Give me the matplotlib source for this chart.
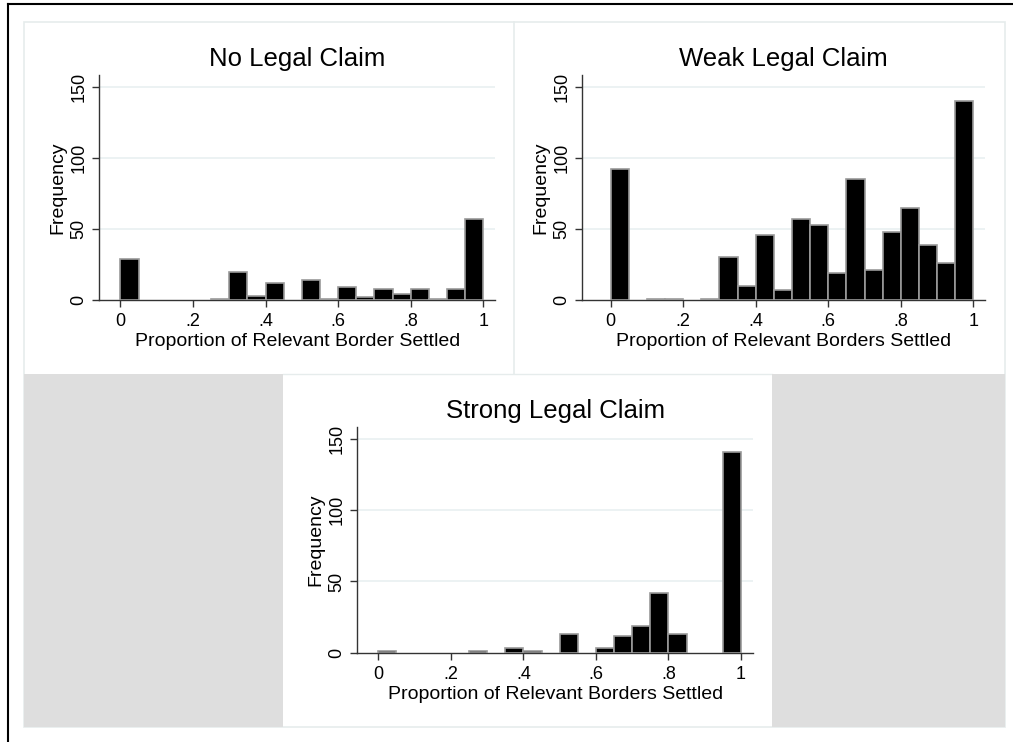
import numpy as np
from matplotlib import pyplot as plt
from matplotlib.patches import Rectangle
from matplotlib.lines import Line2D

plt.rcParams['font.family'] = ['Liberation Sans', 'DejaVu Sans']

W, H = 1013, 742

# histogram bins: 20 bins of width .05 over [0, 1]
bin_width = 0.05
bin_starts = np.arange(20) * bin_width

no_claim = [29, 0, 0, 0, 0, 1, 20, 3, 12, 0, 14, 1, 9, 2, 8, 4, 8, 1, 8, 57]
weak_claim = [92, 0, 1, 1, 0, 1, 30, 10, 46, 7, 57, 53, 19, 85, 21, 48, 65, 39, 26, 140]
strong_claim = [1, 0, 0, 0, 0, 1, 0, 3, 1, 0, 13, 0, 3, 12, 19, 42, 13, 0, 0, 141]

titles = ["No Legal Claim", "Weak Legal Claim", "Strong Legal Claim"]
xlabels = ["Proportion of Relevant Border Settled",
           "Proportion of Relevant Borders Settled",
           "Proportion of Relevant Borders Settled"]
xticks = [0, 0.2, 0.4, 0.6, 0.8, 1]
xticklabels = ["0", ".2", ".4", ".6", ".8", "1"]
yticks = [0, 50, 100, 150]

AXIS_COLOR = "#333333"
GRID_COLOR = "#e9f0f1"
FRAME_COLOR = "#e6ecec"
FILL_GRAY = "#dedede"


def px_rect(left, top, right, bottom):
    '''pixel box (origin top-left) -> figure fraction rect'''
    return [left / W, 1 - bottom / H, (right - left) / W, (bottom - top) / H]


def draw_panel(ax, counts, title, xlabel, xlim, ylim):
    counts = np.array(counts)
    keep = counts > 0
    ax.bar(bin_starts[keep], counts[keep], width=bin_width, align="edge",
           color="black", edgecolor="#9a9a9a", linewidth=1.2, zorder=3)

    ax.set_xlim(*xlim)
    ax.set_ylim(*ylim)
    for y in yticks[1:]:
        ax.axhline(y, color=GRID_COLOR, linewidth=1.2, zorder=1)

    for side in ["top", "right"]:
        ax.spines[side].set_visible(False)
    for side in ["left", "bottom"]:
        ax.spines[side].set_color(AXIS_COLOR)
        ax.spines[side].set_linewidth(1.0)

    ax.set_xticks(xticks)
    ax.set_xticklabels(xticklabels)
    ax.set_yticks(yticks)
    ax.set_yticklabels([str(y) for y in yticks], rotation=90, va="center")
    ax.tick_params(axis="both", direction="out", length=5, width=1,
                   color=AXIS_COLOR, labelsize=13, labelcolor="black")
    ax.tick_params(axis="x", pad=4.5)
    ax.tick_params(axis="y", pad=3.5)

    ax.set_xlabel(xlabel, fontsize=14, labelpad=2)
    ax.set_ylabel("Frequency", fontsize=14, labelpad=3)
    ax.set_title(title, fontsize=18.5, pad=6.5)
    ax.set_facecolor("none")


fig = plt.figure(figsize=(W / 100, H / 100), dpi=100)
fig.patch.set_facecolor("white")

# background boxes of the combined graph
fig.patches.append(Rectangle((24 / W, 1 - 727 / H), (1005 - 24) / W, (727 - 22) / H,
                             transform=fig.transFigure, facecolor="white",
                             edgecolor=FRAME_COLOR, linewidth=1.2, zorder=-2))
fig.patches.append(Rectangle((24 / W, 1 - 727 / H), (283 - 24) / W, (727 - 374) / H,
                             transform=fig.transFigure, facecolor=FILL_GRAY,
                             edgecolor="none", zorder=-1))
fig.patches.append(Rectangle((772 / W, 1 - 727 / H), (1005 - 772) / W, (727 - 374) / H,
                             transform=fig.transFigure, facecolor=FILL_GRAY,
                             edgecolor="none", zorder=-1))
fig.lines.append(Line2D([514 / W, 514 / W], [1 - 22 / H, 1 - 374 / H],
                        transform=fig.transFigure, color=FRAME_COLOR,
                        linewidth=1.2, zorder=-1))
fig.lines.append(Line2D([283 / W, 772 / W], [1 - 374 / H, 1 - 374 / H],
                        transform=fig.transFigure, color=FRAME_COLOR,
                        linewidth=1.0, zorder=-1))

# black outer border (top and left)
fig.lines.append(Line2D([7.5 / W, 7.5 / W], [0, 1 - 4 / H],
                        transform=fig.transFigure, color="black", linewidth=1.5))
fig.lines.append(Line2D([7.5 / W, 1], [1 - 4 / H, 1 - 4 / H],
                        transform=fig.transFigure, color="black", linewidth=1.5))

ax1 = fig.add_axes(px_rect(99.3, 75, 495, 300))
draw_panel(ax1, no_claim, titles[0], xlabels[0], (-0.058, 1.032), (0, 158.2))

ax2 = fig.add_axes(px_rect(582.3, 75, 985, 300))
draw_panel(ax2, weak_claim, titles[1], xlabels[1], (-0.078, 1.032), (0, 158.2))

ax3 = fig.add_axes(px_rect(357.3, 426.7, 753.3, 652.7))
draw_panel(ax3, strong_claim, titles[2], xlabels[2], (-0.058, 1.034), (0, 158.6))

fig.savefig("out.png", dpi=100)
